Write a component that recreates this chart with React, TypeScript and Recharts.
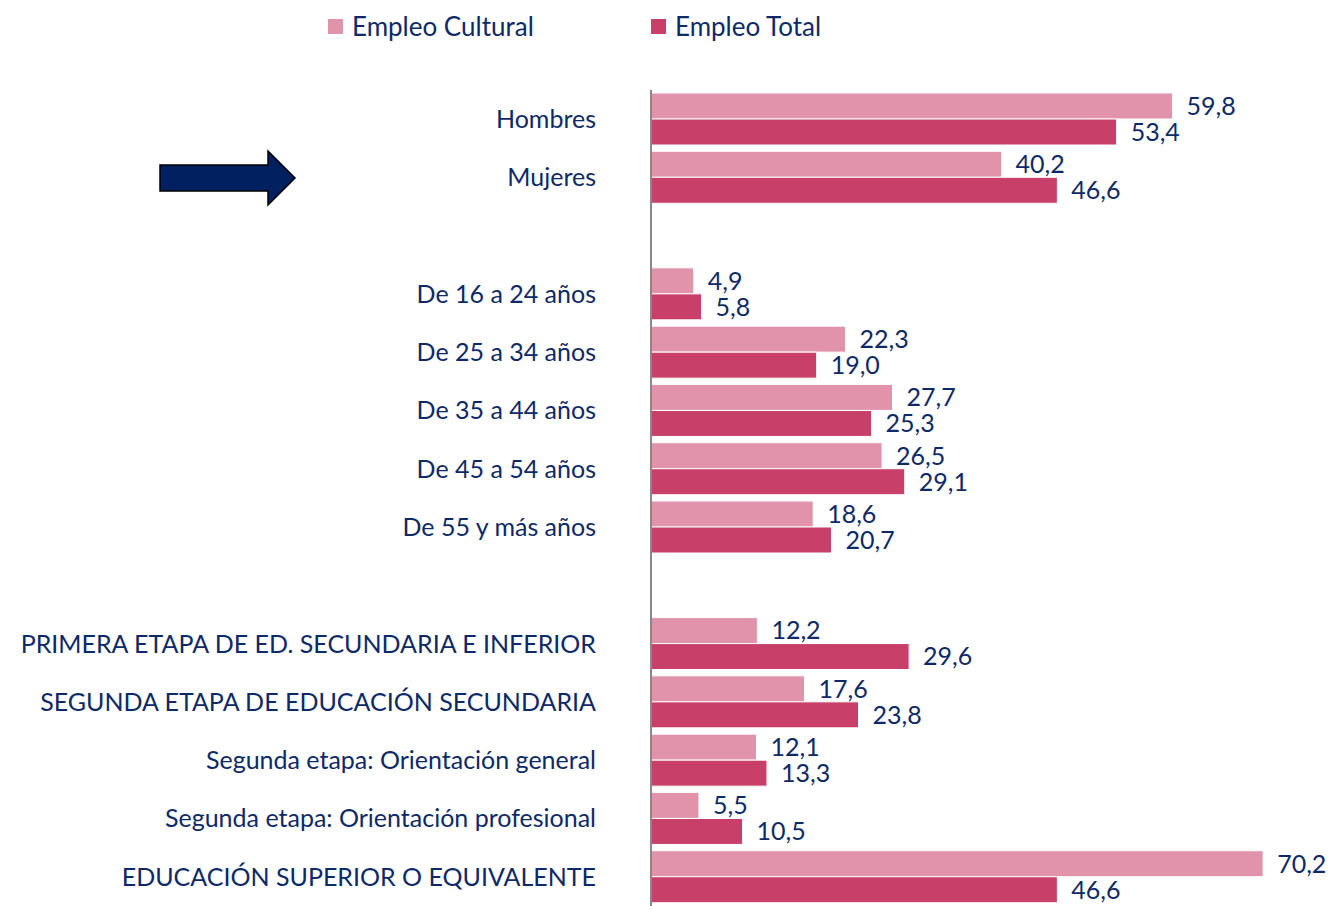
import { BarChart, Bar, XAxis, YAxis, LabelList } from 'recharts';

// Distribución del empleo cultural vs. empleo total (%)
const categories = [
  'Hombres',
  'Mujeres',
  ' ',
  'De 16 a 24 años',
  'De 25 a 34 años',
  'De 35 a 44 años',
  'De 45 a 54 años',
  'De 55 y más años',
  '  ',
  'PRIMERA ETAPA DE ED. SECUNDARIA E INFERIOR',
  'SEGUNDA ETAPA DE EDUCACIÓN SECUNDARIA',
  'Segunda etapa: Orientación general',
  'Segunda etapa: Orientación profesional',
  'EDUCACIÓN SUPERIOR O EQUIVALENTE',
];

const empleoCultural = [59.8, 40.2, null, 4.9, 22.3, 27.7, 26.5, 18.6, null, 12.2, 17.6, 12.1, 5.5, 70.2];
const empleoTotal = [53.4, 46.6, null, 5.8, 19.0, 25.3, 29.1, 20.7, null, 29.6, 23.8, 13.3, 10.5, 46.6];

const data = categories.map((name, i) => ({
  name,
  cultural: empleoCultural[i],
  total: empleoTotal[i],
}));

const NAVY = '#0e2a66';
const LIGHT = '#e093ab';
const DARK = '#c8406a';
const FONT = 'Lato, "Open Sans", sans-serif';

const fmt = (v: any) => (v == null ? '' : Number(v).toFixed(1).replace('.', ','));

function LegendItem({ color, label, left }: { color: string; label: string; left: number }) {
  return (
    <div style={{ position: 'absolute', left, top: 10, display: 'flex', alignItems: 'center' }}>
      <span style={{ width: 15, height: 15, background: color, marginRight: 9 }} />
      <span>{label}</span>
    </div>
  );
}

export default function App() {
  return (
    <div
      style={{
        position: 'absolute',
        left: 0,
        top: 0,
        width: 1332,
        height: 906,
        overflow: 'hidden',
        background: '#fff',
        fontFamily: FONT,
        fontSize: 26,
        color: NAVY,
      }}
    >
      <LegendItem color={LIGHT} label="Empleo Cultural" left={328} />
      <LegendItem color={DARK} label="Empleo Total" left={651} />

      {/* flecha decorativa */}
      <svg style={{ position: 'absolute', left: 0, top: 0 }} width={320} height={220}>
        <polygon
          points="160,165 268,165 268,151 295,178 268,205 268,191 160,191"
          fill="#002060"
          stroke="#000"
          strokeWidth={1.5}
        />
      </svg>

      <BarChart
        width={1332}
        height={906}
        data={data}
        layout="vertical"
        margin={{ top: 90, right: 27, bottom: 0, left: 0 }}
        barSize={26}
        barGap={0}
      >
        <XAxis type="number" domain={[0, 75]} hide />
        <YAxis
          type="category"
          dataKey="name"
          width={651}
          interval={0}
          tickLine={false}
          tickMargin={49}
          axisLine={{ stroke: '#888', strokeWidth: 2 }}
          tick={{ fontSize: 25, fill: NAVY, fontFamily: FONT }}
        />
        <Bar dataKey="cultural" fill={LIGHT} stroke="#fff" strokeWidth={1} isAnimationActive={false}>
          <LabelList
            dataKey="cultural"
            position="right"
            offset={14}
            formatter={fmt}
            style={{ fontSize: 25, fill: NAVY, fontFamily: FONT }}
          />
        </Bar>
        <Bar dataKey="total" fill={DARK} stroke="#fff" strokeWidth={1} isAnimationActive={false}>
          <LabelList
            dataKey="total"
            position="right"
            offset={14}
            formatter={fmt}
            style={{ fontSize: 25, fill: NAVY, fontFamily: FONT }}
          />
        </Bar>
      </BarChart>
    </div>
  );
}
